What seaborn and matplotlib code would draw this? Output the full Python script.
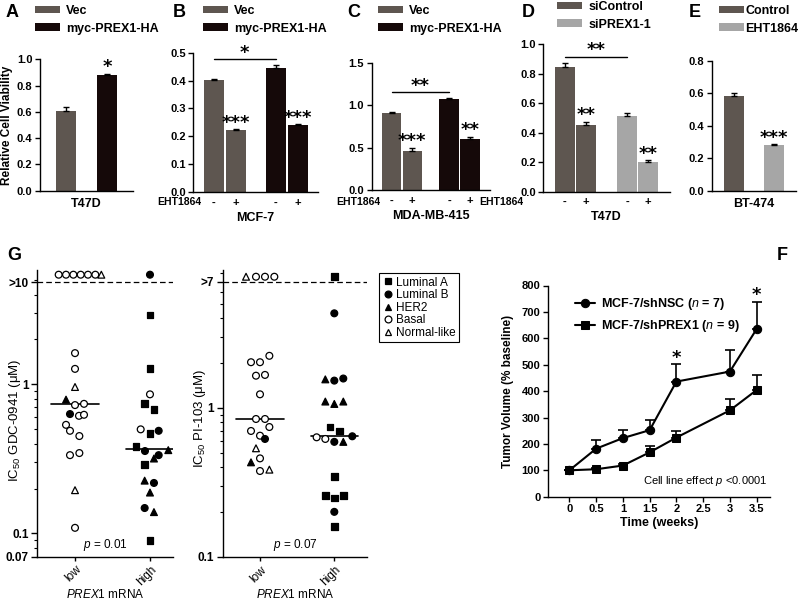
import numpy as np
import pandas as pd
import seaborn as sns
import matplotlib.pyplot as plt
from matplotlib.patches import Patch
from matplotlib.container import BarContainer
from matplotlib.ticker import LogLocator, NullFormatter

# ---------------- data ----------------
eht = ["-", "+"]

# A  T47D viability
a_groups = ["Vec", "myc-PREX1-HA"]
a_mean = [0.607, 0.883]
a_err = [0.028, 0.006]

# B  MCF-7   order: Vec -, Vec +, myc -, myc +
b_groups = ["Vec", "myc-PREX1-HA"]
b_mean = [0.401, 0.222, 0.446, 0.240]
b_err = [0.003, 0.003, 0.008, 0.003]

# C  MDA-MB-415
c_mean = [0.905, 0.455, 1.075, 0.605]
c_err = [0.012, 0.045, 0.006, 0.025]

# D  T47D siRNA
d_groups = ["siControl", "siPREX1-1"]
d_mean = [0.848, 0.453, 0.512, 0.204]
d_err = [0.023, 0.023, 0.025, 0.008]

# E  BT-474
e_groups = ["Control", "EHT1864"]
e_mean = [0.582, 0.282]
e_err = [0.018, 0.005]

# heights of the significance brackets
b_line, c_line, d_line = 0.477, 1.156, 0.916

# G  IC50 per cell line (LA=Luminal A, LB=Luminal B, H=HER2, B=Basal, N=Normal-like)
sub_names = {"LA": "Luminal A", "LB": "Luminal B", "H": "HER2", "B": "Basal", "N": "Normal-like"}
subtypes = list(sub_names.values())

gdc_low_sub = ["B", "B", "B", "B", "B", "B", "N", "B", "B", "N", "H", "B", "B", "LB",
               "B", "B", "B", "B", "B", "B", "B", "N", "B"]
gdc_low_val = [5.44, 5.44, 5.44, 5.44, 5.44, 5.44, 5.44, 1.62, 1.27, 0.96, 0.79, 0.726, 0.74, 0.632,
               0.615, 0.625, 0.535, 0.488, 0.45, 0.335, 0.346, 0.195, 0.109]
gdc_low_dx = [-0.218, -0.12, -0.022, 0.076, 0.173, 0.271, 0.351, 0, 0, 0, -0.12, 0, 0.12, -0.067,
              0.053, 0.12, -0.12, -0.067, 0.058, -0.067, 0.058, 0, 0]
gdc_high_sub = ["LB", "LA", "LA", "B", "LA", "LA", "B", "LA", "LB", "LA", "LB", "H", "LB", "H",
                "LA", "H", "LB", "H", "LB", "H", "LA"]
gdc_high_val = [5.44, 2.92, 1.28, 0.857, 0.745, 0.68, 0.499, 0.469, 0.488, 0.381, 0.357, 0.362, 0.335, 0.318,
                0.289, 0.226, 0.218, 0.188, 0.148, 0.139, 0.09]
gdc_high_dx = [0, 0, 0, 0, -0.071, 0.053, -0.124, 0, 0.116, -0.187, -0.067, 0.244, 0.116, 0.053,
               -0.071, -0.071, 0.053, 0, -0.071, 0.053, 0]
gdc_median = [0.738, 0.368]

pi_low_sub = ["N", "B", "B", "B", "B", "B", "B", "B", "B", "B", "B", "B", "B", "B", "B",
              "LB", "N", "B", "H", "B", "N"]
pi_low_val = [7.57, 7.57, 7.57, 7.57, 2.23, 2.02, 2.02, 1.64, 1.66, 1.23, 0.84, 0.84, 0.742, 0.698, 0.649,
              0.617, 0.534, 0.457, 0.43, 0.376, 0.384]
pi_low_dx = [-0.188, -0.054, 0.067, 0.193, 0.126, -0.121, 0, -0.054, 0.067, 0, -0.054, 0.067, 0.126, -0.121, 0,
             0.067, -0.054, 0, -0.121, 0, 0.126]
pi_high_sub = ["LA", "LB", "H", "LB", "LB", "H", "H", "H", "LA", "LA", "B", "B", "LB", "H", "LB",
               "LA", "LA", "LA", "LA", "LB", "LA"]
pi_high_val = [7.57, 4.3, 1.55, 1.52, 1.57, 1.1, 1.06, 1.1, 0.742, 0.698, 0.633, 0.617, 0.59, 0.59, 0.643,
               0.344, 0.258, 0.248, 0.258, 0.2, 0.159]
pi_high_dx = [0, 0, -0.121, 0, 0.121, -0.121, 0, 0.121, -0.058, 0.067, -0.238, -0.121, 0, 0.121, 0.242,
              0, -0.121, 0, 0.121, 0, 0]
pi_median = [0.844, 0.643]

# F  tumour growth
f_weeks = [0, 0.5, 1, 1.5, 2, 3, 3.5]
f_nsc = [100, 182, 222, 252, 436, 474, 635]
f_nsc_err = [0, 31, 30, 37, 66, 81, 104]
f_prex = [100, 104, 118, 168, 224, 327, 404]
f_prex_err = [0, 4, 5, 23, 24, 44, 56]
f_star_weeks = [2, 3.5]
f_labels = ["MCF-7/shNSC ($\\it{n}$ = 7)", "MCF-7/shPREX1 ($\\it{n}$ = 9)"]

# ---------------- style ----------------
sns.set_style("ticks", {"axes.edgecolor": "black", "xtick.color": "black", "ytick.color": "black",
                        "text.color": "black", "axes.labelcolor": "black"})
plt.rcParams.update({
    "font.family": ["Liberation Sans", "DejaVu Sans"],
    "font.weight": "bold",
    "axes.labelweight": "bold",
    "mathtext.fontset": "custom",
    "mathtext.rm": "Liberation Sans:weight=normal",
    "mathtext.it": "Liberation Sans:style=italic:weight=normal",
    "mathtext.bf": "Liberation Sans:weight=bold",
    "axes.linewidth": 1.0,
})

GREY = "#5e5650"
BLACK = "#150909"
LIGHT = "#a6a6a6"

W, H = 800, 601
fig = plt.figure(figsize=(8, 6.01), dpi=100)


def box(l, t, r, b):
    return fig.add_axes([l / W, 1 - b / H, (r - l) / W, (b - t) / H])


def ftext(x, y, s, **kw):
    fig.text(x / W, 1 - y / H, s, **kw)


def star(ax, x, y, s):
    ax.annotate(s, xy=(x, y), xytext=(0, 1), textcoords="offset points", ha="center", va="baseline",
                fontsize=13, fontweight="bold", family="DejaVu Sans", annotation_clip=False)


def bar_containers(ax):
    return [c for c in ax.containers if isinstance(c, BarContainer)]


def finish_bar_ax(ax, xlim, ylim, yticks, fmt):
    ax.set_xlim(*xlim)
    ax.set_ylim(*ylim)
    ax.set_yticks(yticks, [fmt.format(v) for v in yticks])
    ax.set_ylabel("")
    sns.despine(ax=ax)
    ax.tick_params(axis="x", length=0, pad=4, labelsize=8)
    ax.tick_params(axis="y", length=3.5, width=1, labelsize=8, pad=2)


def top_legend(ax, labels, colors, x, y, pad=0.5):
    handles = [Patch(facecolor=c, edgecolor="none") for c in colors]
    ax.legend(handles, labels, loc="upper left", bbox_to_anchor=(x / W, 1 - y / H),
              bbox_transform=fig.transFigure, frameon=False, prop={"weight": "bold", "size": 9},
              handlelength=2.0, handleheight=0.55, labelspacing=0.45, handletextpad=pad,
              borderpad=0, borderaxespad=0)


def pair_bars(ax, groups, means, errs, colors, width, gap):
    df = pd.DataFrame({"group": np.repeat(groups, 2), "EHT1864": eht * len(groups), "value": means})
    sns.barplot(data=df, x="group", y="value", hue="EHT1864", order=groups, hue_order=eht,
                width=width, gap=gap, errorbar=None, legend=False, linewidth=0, ax=ax)
    centers = {}
    for h, cont in enumerate(bar_containers(ax)):
        for i, bar in enumerate(cont):
            k = 2 * i + h
            bar.set_facecolor(colors[i])
            centers[k] = bar.get_x() + bar.get_width() / 2
    xs = [centers[k] for k in range(len(means))]
    ax.errorbar(xs, means, yerr=[np.zeros(len(errs)), errs], fmt="none", ecolor="black",
                elinewidth=1, capsize=2.5, capthick=1)
    ax.set_xticks(xs, eht * len(groups))
    ax.set_xlabel("")
    return xs


def single_bars(ax, cell, groups, means, errs, colors, gap):
    df = pd.DataFrame({"cell": [cell] * len(groups), "group": groups, "value": means})
    sns.barplot(data=df, x="cell", y="value", hue="group", hue_order=groups, palette=colors,
                saturation=1, width=0.8, gap=gap, errorbar=None, legend=False, linewidth=0, ax=ax)
    xs = [c[0].get_x() + c[0].get_width() / 2 for c in bar_containers(ax)]
    ax.errorbar(xs, means, yerr=[np.zeros(len(errs)), errs], fmt="none", ecolor="black",
                elinewidth=1, capsize=2.5, capthick=1)
    ax.set_xlabel("")
    return xs


# ---- A ----
axA = box(40, 59.3, 133, 190.7)
xs = single_bars(axA, "T47D", a_groups, a_mean, a_err, [GREY, BLACK], 0.52)
finish_bar_ax(axA, (-0.447, 0.447), (0, 1.0), [0, 0.2, 0.4, 0.6, 0.8, 1.0], "{:.1f}")
axA.tick_params(axis="x", labelsize=9, pad=5)
axA.set_ylabel("Relative Cell Viability", fontsize=8.5)
axA.yaxis.set_label_coords((13 - 40) / 93, 0.5)
star(axA, xs[1], a_mean[1] + a_err[1], "*")
top_legend(axA, a_groups, [GREY, BLACK], 35, 5)

# ---- B ----
axB = box(193.3, 52.6, 318, 192.3)
xs = pair_bars(axB, b_groups, b_mean, b_err, [GREY, BLACK], 0.71, 0.09)
finish_bar_ax(axB, (-0.504, 1.504), (0, 0.5), [0, 0.1, 0.2, 0.3, 0.4, 0.5], "{:.1f}")
axB.set_xlabel("MCF-7", fontsize=9, labelpad=3)
axB.plot([xs[0], xs[2]], [b_line, b_line], color="black", lw=1, clip_on=False)
star(axB, (xs[0] + xs[2]) / 2, b_line, "*")
for k in (1, 3):
    star(axB, xs[k], b_mean[k] + b_err[k], "***")
top_legend(axB, b_groups, [GREY, BLACK], 203, 5)
ftext(201.7, 202.5, "EHT1864", ha="right", va="center", fontsize=7.5)

# ---- C ----
axC = box(371.7, 62.7, 489.8, 190)
xs = pair_bars(axC, b_groups, c_mean, c_err, [GREY, BLACK], 0.72, 0.06)
finish_bar_ax(axC, (-0.524, 1.524), (0, 1.5), [0, 0.5, 1.0, 1.5], "{:.1f}")
axC.set_xlabel("MDA-MB-415", fontsize=9, labelpad=3)
axC.plot([xs[0], xs[2]], [c_line, c_line], color="black", lw=1, clip_on=False)
star(axC, (xs[0] + xs[2]) / 2, c_line, "**")
star(axC, xs[1], c_mean[1] + c_err[1], "***")
star(axC, xs[3], c_mean[3] + c_err[3], "**")
top_legend(axC, b_groups, [GREY, BLACK], 378, 5)
ftext(380, 202.5, "EHT1864", ha="right", va="center", fontsize=7.5)

# ---- D ----
axD = box(543.3, 44.3, 669.6, 191.7)
xs = pair_bars(axD, d_groups, d_mean, d_err, [GREY, LIGHT], 0.674, 0.07)
finish_bar_ax(axD, (-0.514, 1.514), (0, 1.0), [0, 0.2, 0.4, 0.6, 0.8, 1.0], "{:.1f}")
axD.set_xlabel("T47D", fontsize=9, labelpad=3)
axD.plot([xs[0], xs[2]], [d_line, d_line], color="black", lw=1, clip_on=False)
star(axD, (xs[0] + xs[2]) / 2, d_line, "**")
star(axD, xs[1], d_mean[1] + d_err[1], "**")
star(axD, xs[3], d_mean[3] + d_err[3], "**")
top_legend(axD, d_groups, [GREY, LIGHT], 557, 1)
ftext(523, 202.5, "EHT1864", ha="right", va="center", fontsize=7.5)

# ---- E ----
axE = box(711.7, 61, 796.3, 190.7)
xs = single_bars(axE, "BT-474", e_groups, e_mean, e_err, [GREY, LIGHT], 0.49)
finish_bar_ax(axE, (-0.419, 0.419), (0, 0.8), [0, 0.2, 0.4, 0.6, 0.8], "{:.1f}")
axE.tick_params(axis="x", labelsize=9, pad=5)
star(axE, xs[1], e_mean[1] + e_err[1], "***")
top_legend(axE, e_groups, [GREY, LIGHT], 719, 5, pad=0.1)

# ---- G ----
face = {"Luminal A": "black", "Luminal B": "black", "HER2": "black", "Basal": "white", "Normal-like": "white"}
mark = {"Luminal A": "s", "Luminal B": "o", "HER2": "^", "Basal": "o", "Normal-like": "^"}


def ic50_panel(ax, low_sub, low_val, low_dx, high_sub, high_val, high_dx, medians,
               cap, cap_label, ylim, ticks, ylabel, ptext, legend):
    df = pd.DataFrame({
        "subtype": [sub_names[s] for s in low_sub + high_sub],
        "ic50": low_val + high_val,
        "x": [0 + d for d in low_dx] + [1 + d for d in high_dx],
    })
    sns.scatterplot(data=df, x="x", y="ic50", hue="subtype", style="subtype",
                    hue_order=subtypes, style_order=subtypes, palette=face, markers=mark,
                    edgecolor="black", linewidth=0.9, s=24, legend=legend, ax=ax, clip_on=False, zorder=3)
    ax.set_yscale("log")
    for i, m in enumerate(medians):
        ax.plot([i - 0.32, i + 0.32], [m, m], color="black", lw=1.2, zorder=2)
    ax.axhline(cap, color="black", lw=0.9, ls=(0, (4.5, 2.5)))
    ax.set_ylim(*ylim)
    ax.set_yticks(ticks + [cap], [f"{t:g}" for t in ticks] + [cap_label])
    ax.yaxis.set_minor_locator(LogLocator(base=10, subs=np.arange(2, 10)))
    ax.yaxis.set_minor_formatter(NullFormatter())
    ax.set_xticks([0, 1], ["low", "high"], rotation=45, ha="right", rotation_mode="anchor",
                  fontweight="normal", fontsize=8.5)
    ax.tick_params(axis="y", which="major", length=4, width=1, labelsize=8.5, pad=2)
    ax.tick_params(axis="y", which="minor", length=2.5, width=0.8)
    ax.tick_params(axis="x", length=3, width=1, pad=2)
    ax.set_xlabel("$\\it{PREX1}$ mRNA", fontweight="normal", fontsize=8.5)
    ax.set_ylabel(ylabel, fontweight="normal", fontsize=9.5)
    ax.text(0.5, 0.012, ptext, transform=ax.transAxes, ha="center", va="bottom",
            fontsize=8.5, fontweight="normal")
    sns.despine(ax=ax)


axG1 = box(37, 270, 173, 556.5)
ic50_panel(axG1, gdc_low_sub, gdc_low_val, gdc_low_dx, gdc_high_sub, gdc_high_val, gdc_high_dx,
           gdc_median, 4.85, ">10", (0.07, 5.85), [0.07, 0.1, 1], "IC$_{50}$ GDC-0941 (μM)",
           "$\\it{p}$ = 0.01", False)
axG1.set_xlim(-0.507, 1.307)
axG1.yaxis.set_label_coords((23 - 37) / 136, 0.476)
axG1.xaxis.set_label_coords(0.5, -0.11)

axG2 = box(222.7, 270, 367, 556.7)
ic50_panel(axG2, pi_low_sub, pi_low_val, pi_low_dx, pi_high_sub, pi_high_val, pi_high_dx,
           pi_median, 7.0, ">7", (0.1, 8.4), [0.1, 1], "IC$_{50}$ PI-103 (μM)",
           "$\\it{p}$ = 0.07", "brief")
axG2.set_xlim(-0.502, 1.44)
axG2.yaxis.set_label_coords((208.5 - 222.7) / 144.3, 0.482)
axG2.xaxis.set_label_coords(0.5, -0.11)
sns.move_legend(axG2, "upper left", bbox_to_anchor=(379 / W, 1 - 273 / H), bbox_transform=fig.transFigure,
                title=None, frameon=True, fancybox=False, edgecolor="black", framealpha=1,
                borderpad=0.3, labelspacing=0.05, handletextpad=0.1, handlelength=1.0,
                borderaxespad=0, prop={"size": 8.5, "weight": "normal"})
axG2.get_legend().get_frame().set_linewidth(0.8)

# ---- F ----
axF = box(548, 285.5, 770, 496.7)
df_f = pd.DataFrame({
    "week": f_weeks * 2,
    "volume": f_nsc + f_prex,
    "group": [f_labels[0]] * len(f_weeks) + [f_labels[1]] * len(f_weeks),
})
sns.lineplot(data=df_f, x="week", y="volume", style="group", markers=["o", "s"], dashes=False,
             color="black", linewidth=1.5, markersize=6, markeredgecolor="black", ax=axF)
for vals, errs in ((f_nsc, f_nsc_err), (f_prex, f_prex_err)):
    axF.errorbar(f_weeks, vals, yerr=[np.zeros(len(errs)), errs], fmt="none", ecolor="black",
                 elinewidth=1.2, capsize=3.5, capthick=1.2)
for w in f_star_weeks:
    i = f_weeks.index(w)
    star(axF, w, f_nsc[i] + f_nsc_err[i], "*")
axF.set_xlim(-0.4, 3.75)
axF.set_ylim(0, 800)
axF.set_xticks(np.arange(0, 4, 0.5), ["0", "0.5", "1", "1.5", "2", "2.5", "3", "3.5"])
axF.set_yticks(range(0, 801, 100))
axF.tick_params(axis="both", length=3.5, width=1, labelsize=8, pad=2)
axF.set_xlabel("Time (weeks)", fontsize=9, labelpad=2)
axF.set_ylabel("Tumor Volume (% baseline)", fontsize=8.5)
axF.yaxis.set_label_coords((514 - 548) / 222, 0.5)
sns.despine(ax=axF)
leg = axF.get_legend()
handles = leg.legend_handles
labels = [t.get_text() for t in leg.get_texts()]
axF.legend(handles, labels, loc="upper left", bbox_to_anchor=(575 / W, 1 - 296 / H),
           bbox_transform=fig.transFigure, frameon=False, prop={"size": 9, "weight": "bold"},
           handlelength=1.6, handletextpad=0.5, labelspacing=0.5, borderpad=0, borderaxespad=0)
axF.text((767 - 548) / 222, (496.7 - 480.7) / 211.2, "Cell line effect $\\it{p}$ <0.0001",
         transform=axF.transAxes, ha="right", va="center", fontsize=8, fontweight="normal")

# ---- panel letters ----
for letter, x, y in (("A", 6, 4), ("B", 173, 4), ("C", 347, 4), ("D", 522, 4), ("E", 689, 4),
                     ("G", 7, 247), ("F", 777, 247)):
    ftext(x, y, letter, ha="left", va="top", fontsize=13)

fig.savefig("out.png", dpi=100)
